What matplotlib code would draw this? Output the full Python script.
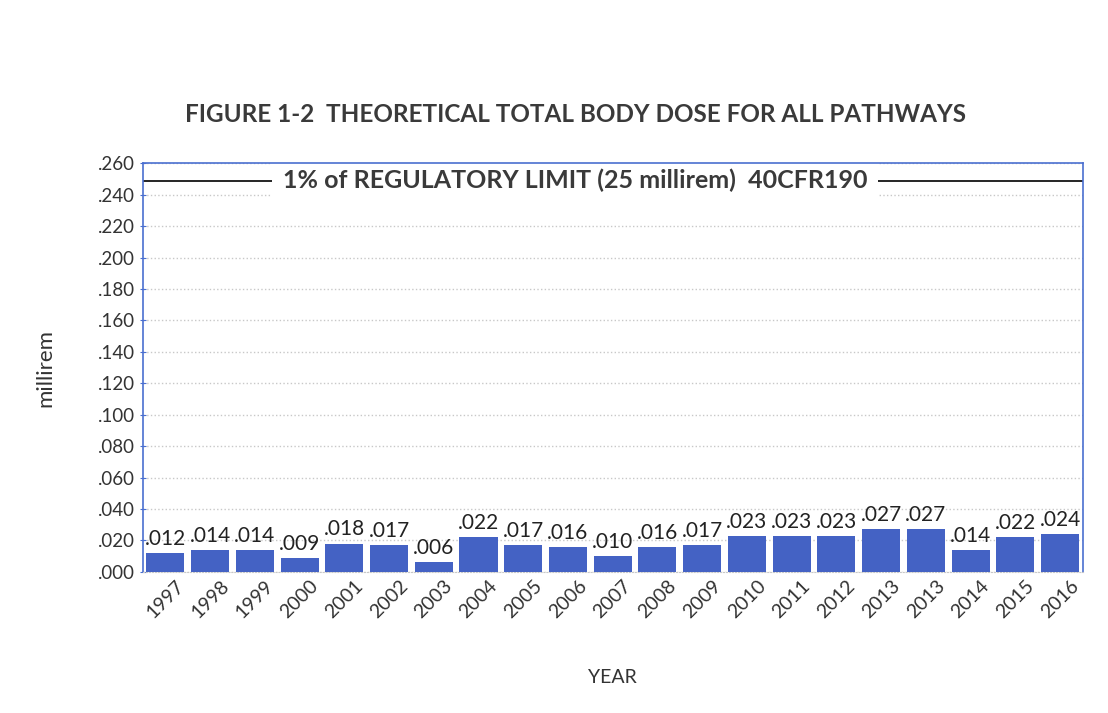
import matplotlib.pyplot as plt
from matplotlib.ticker import FuncFormatter, MultipleLocator

plt.rcParams['font.family'] = ['Lato', 'DejaVu Sans']

years = ['1997', '1998', '1999', '2000', '2001', '2002', '2003', '2004', '2005', '2006', '2007',
         '2008', '2009', '2010', '2011', '2012', '2013', '2013', '2014', '2015', '2016']
dose = [0.012, 0.014, 0.014, 0.009, 0.018, 0.017, 0.006, 0.022, 0.017, 0.016, 0.010,
        0.016, 0.017, 0.023, 0.023, 0.023, 0.027, 0.027, 0.014, 0.022, 0.024]
limit = 0.249
limit_text = '1% of REGULATORY LIMIT (25 millirem)  40CFR190'

fig = plt.figure(figsize=(11.08, 7.13), dpi=100)
ax = fig.add_axes([0.129, 0.198, 0.848, 0.573])

x = range(len(years))
bars = ax.bar(x, dose, width=0.85, color='#4462c4', zorder=3)

for xi, v in zip(x, dose):
    ax.annotate(f'{v:.3f}'.lstrip('0'), (xi, v), xytext=(0, 3), textcoords='offset points',
                ha='center', va='bottom', fontsize=15, color='#222222')

# regulatory limit line with the label sitting on top of it
ax.axhline(limit, color='black', lw=1.2, zorder=2)
ax.text(0.46, limit, limit_text, transform=ax.get_yaxis_transform(), ha='center', va='center',
        fontsize=18, fontweight='bold', color='#3a3a3a', zorder=2.2,
        bbox=dict(facecolor='white', edgecolor='none', pad=8))

ax.set_xlim(-0.5, len(years) - 0.5)
ax.set_ylim(0, 0.26)
ax.yaxis.set_major_locator(MultipleLocator(0.02))
ax.yaxis.set_major_formatter(FuncFormatter(lambda v, p: f'{v:.3f}'.lstrip('0') if v > 0 else '.000'))
ax.set_xticks(list(x))
ax.set_xticklabels(years, rotation=45, fontsize=14, color='#333333')
ax.tick_params(axis='y', labelsize=13.5, labelcolor='#333333', color='#4a6fd0', length=5, direction='inout')
ax.tick_params(axis='x', length=0, pad=4)

ax.grid(axis='y', color='#c8c8c8', linestyle=':', lw=1, zorder=0)
for s in ['left', 'right', 'top']:
    ax.spines[s].set_color('#4a6fd0')
    ax.spines[s].set_linewidth(1.2)
ax.spines['bottom'].set_color('#c8c8c8')
ax.spines['bottom'].set_linestyle(':')

ax.set_ylabel('millirem', fontsize=16, color='#333333', labelpad=30)
ax.set_xlabel('YEAR', fontsize=14, color='#333333', labelpad=34)
fig.suptitle('FIGURE 1-2  THEORETICAL TOTAL BODY DOSE FOR ALL PATHWAYS', x=0.519, y=0.855,
             fontsize=17.5, fontweight='bold', color='#3a3a3a')

fig.savefig('out.png', dpi=100)
